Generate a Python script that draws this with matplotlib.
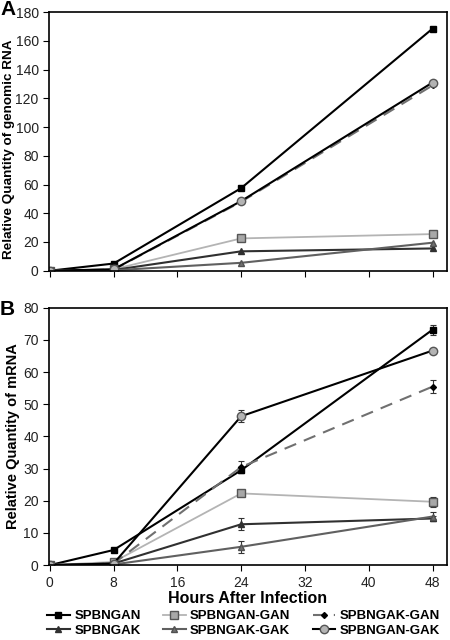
import numpy as np
import matplotlib
matplotlib.use('Agg')
import matplotlib.pyplot as plt

plt.rcParams['font.family'] = ['Liberation Sans', 'DejaVu Sans']

hours = [0, 8, 24, 48]
names = ['SPBNGAN', 'SPBNGAN-GAN', 'SPBNGAK-GAN', 'SPBNGAK', 'SPBNGAK-GAK', 'SPBNGAN-GAK']

# panel A: genomic RNA
rna_gan = [0, 5, 57.5, 168.5]
rna_gan_gan = [0, 1, 22.5, 25.5]
rna_gak_gan = [0, 0.8, 48, 129]
rna_gak = [0, 0.5, 13.5, 15.5]
rna_gak_gak = [0, 0.3, 5.5, 19.5]
rna_gan_gak = [0, 1, 48.5, 131]

# panel B: mRNA with error bars
mrna_gan = [0, 4.7, 29.5, 73.2]
mrna_gan_err = [0, 0.5, 0.8, 1.5]
mrna_gan_gan = [0, 1, 22.3, 19.7]
mrna_gan_gan_err = [0, 0.3, 0.5, 1.5]
mrna_gak_gan = [0, 0.5, 30.5, 55.5]
mrna_gak_gan_err = [0, 0.3, 1.8, 2.0]
mrna_gak = [0, 0.5, 12.7, 14.5]
mrna_gak_err = [0, 0.3, 1.9, 0.8]
mrna_gak_gak = [0, 0.2, 5.7, 15.1]
mrna_gak_gak_err = [0, 0.2, 1.8, 1.5]
mrna_gan_gak = [0, 0.5, 46.3, 66.7]
mrna_gan_gak_err = [0, 0.3, 1.8, 0.6]

styles = [
    dict(color='black', marker='s', mfc='black', mec='black', ms=5, ls='-', lw=1.5),
    dict(color='#b4b4b4', marker='s', mfc='#a8a8a8', mec='#555555', ms=6, ls='-', lw=1.3),
    dict(color='#707070', marker='D', mfc='black', mec='black', ms=3, ls=(0, (6, 4)), lw=1.5),
    dict(color='#303030', marker='^', mfc='#303030', mec='#303030', ms=5, ls='-', lw=1.5),
    dict(color='#606060', marker='^', mfc='#707070', mec='#505050', ms=5, ls='-', lw=1.5),
    dict(color='black', marker='o', mfc='#b4b4b4', mec='#555555', ms=6, ls='-', lw=1.5),
]

fig = plt.figure(figsize=(4.5, 6.4), dpi=100)
axA = fig.add_axes([0.109, 0.577, 0.884, 0.404])
axB = fig.add_axes([0.109, 0.117, 0.884, 0.402])

rna = [rna_gan, rna_gan_gan, rna_gak_gan, rna_gak, rna_gak_gak, rna_gan_gak]
handles = []
for name, y, st in zip(names, rna, styles):
    h, = axA.plot(hours, y, label=name, **st)
    handles.append(h)

mrna = [(mrna_gan, mrna_gan_err), (mrna_gan_gan, mrna_gan_gan_err), (mrna_gak_gan, mrna_gak_gan_err),
        (mrna_gak, mrna_gak_err), (mrna_gak_gak, mrna_gak_gak_err), (mrna_gan_gak, mrna_gan_gak_err)]
for (y, e), st in zip(mrna, styles):
    axB.errorbar(hours, y, yerr=e, ecolor='#333333', elinewidth=0.8, capsize=2, capthick=0.8, **st)

for ax in (axA, axB):
    ax.set_xlim(-0.1, 49.8)
    ax.set_xticks([0, 8, 16, 24, 32, 40, 48])
    ax.tick_params(direction='out', labelsize=10, length=4, colors='black', labelcolor='#222222')
    for s in ax.spines.values():
        s.set_linewidth(1.2)

axA.set_ylim(0, 180)
axA.set_yticks(range(0, 181, 20))
axA.set_xticklabels([])
axA.set_ylabel('Relative Quantity of genomic RNA', fontsize=9.7, fontweight='bold', labelpad=2)
axA.yaxis.set_label_coords(-0.085, 0.47)

axB.set_ylim(0, 80)
axB.set_yticks(range(0, 81, 10))
axB.set_ylabel('Relative Quantity of mRNA', fontsize=10.5, fontweight='bold', labelpad=2)
axB.set_xlabel('Hours After Infection', fontsize=11.5, fontweight='bold', labelpad=1)

fig.text(0.0, 0.985, 'A', fontsize=15, fontweight='bold', va='center')
fig.text(0.0, 0.516, 'B', fontsize=15, fontweight='bold', va='center')

order = [0, 3, 1, 4, 2, 5]
fig.legend([handles[i] for i in order], [names[i] for i in order], ncol=3,
           loc='upper left', bbox_to_anchor=(0.105, 1 - 610 / 640), frameon=False,
           borderpad=0, borderaxespad=0,
           prop={'weight': 'bold', 'size': 9.5}, handlelength=1.7, columnspacing=1.7,
           handletextpad=0.35, labelspacing=0.2)

fig.savefig('out.png', dpi=100)
